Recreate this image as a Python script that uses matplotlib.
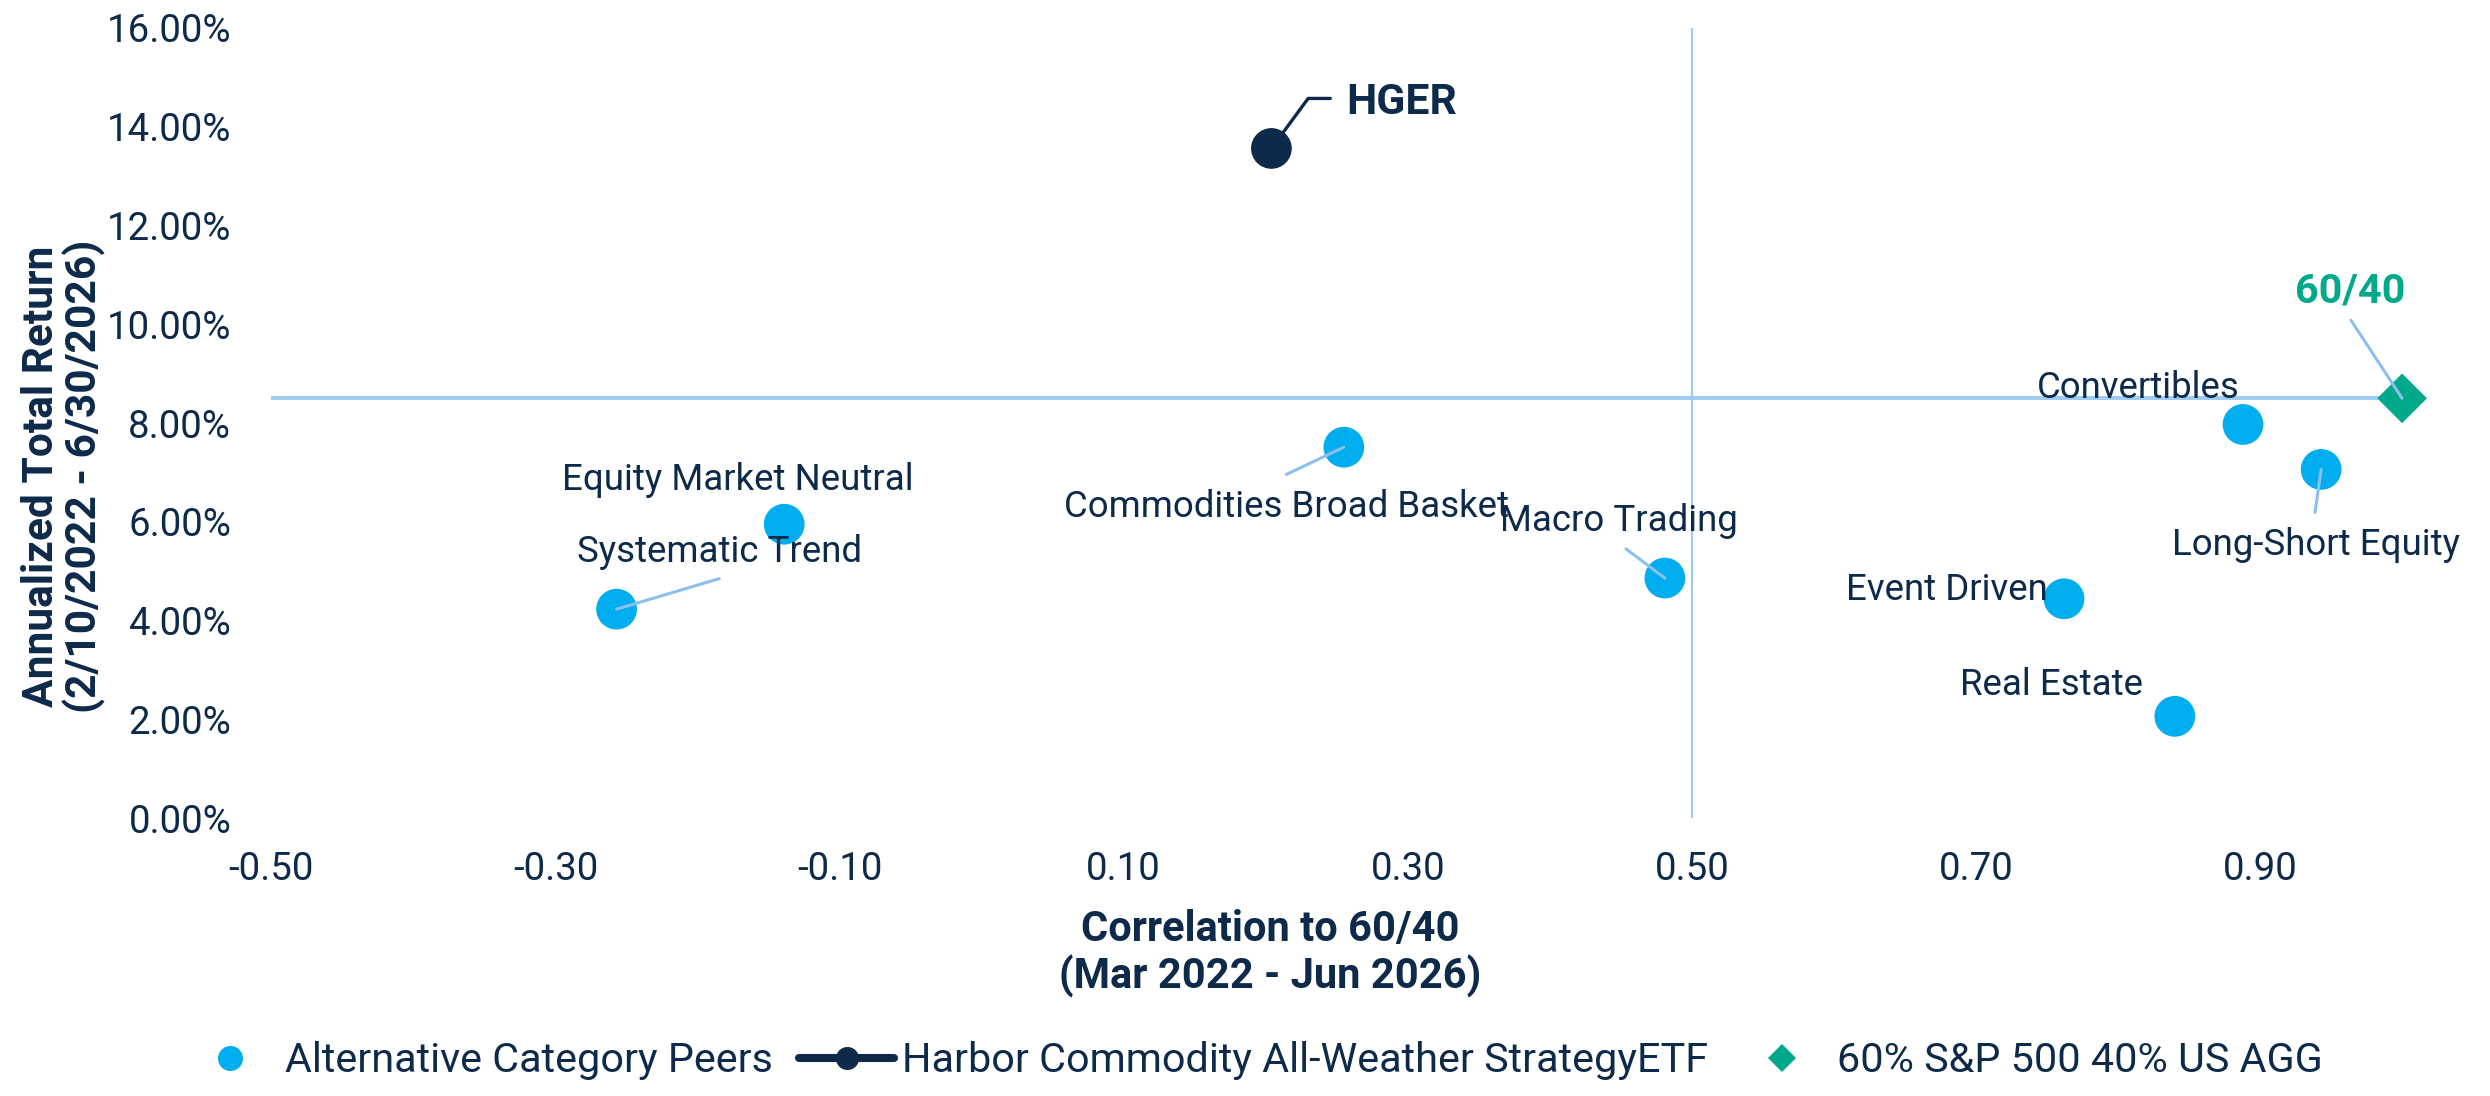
import matplotlib
matplotlib.use("Agg")
import matplotlib.pyplot as plt
from matplotlib.lines import Line2D
from matplotlib.ticker import FuncFormatter

plt.rcParams['font.family'] = ['Roboto', 'DejaVu Sans']

# ---------------- data ----------------
peer_names = ["Systematic Trend", "Equity Market Neutral", "Commodities Broad Basket",
              "Macro Trading", "Event Driven", "Real Estate", "Convertibles",
              "Long-Short Equity"]
peer_corr = [-0.257, -0.139, 0.255, 0.481, 0.762, 0.840, 0.888, 0.943]
peer_ret = [4.23, 5.95, 7.51, 4.86, 4.44, 2.06, 7.97, 7.06]

hger_name = "HGER"
hger_corr = [0.204]
hger_ret = [13.56]

bench_name = "60/40"
bench_corr = [1.00]
bench_ret = [8.50]

corr_divider = 0.50

x_ticks = [-0.50, -0.30, -0.10, 0.10, 0.30, 0.50, 0.70, 0.90]
y_ticks = [0, 2, 4, 6, 8, 10, 12, 14, 16]

legend_labels = ["Alternative Category Peers",
                 "Harbor Commodity All-Weather StrategyETF",
                 "60% S&P 500 40% US AGG"]

x_label = "Correlation to 60/40\n(Mar 2022 - Jun 2026)"
y_label = "Annualized Total Return\n(2/10/2022 - 6/30/2026)"

# ---------------- style ----------------
NAVY = "#0D2A4A"
BLUE = "#00AEEF"
GREEN = "#00A98A"
REF = "#9DCBF2"
LEAD = "#8DBFEE"

# label offsets (points) of text centre relative to its point
label_off = {
    "Systematic Trend": (37, 20.5),
    "Equity Market Neutral": (-16.6, 16.0),
    "Commodities Broad Basket": (-20.7, -21.5),
    "Macro Trading": (-16.6, 20.5),
    "Event Driven": (-42.3, 3.2),
    "Real Estate": (-44.3, 11.2),
    "Convertibles": (-37.7, 13.0),
    "Long-Short Equity": (-1.8, -27.3),
}
# leader end offsets (points)
lead_off = {
    "Systematic Trend": (37, 11),
    "Commodities Broad Basket": (-20.7, -9.8),
    "Macro Trading": (-14, 10.5),
    "Long-Short Equity": (-2.2, -15.5),
}

fig = plt.figure(figsize=(12.45, 5.48), dpi=200)
ax = fig.add_axes([0.1090, 0.2536, 0.9647 - 0.1090, 0.9745 - 0.2536])

ax.set_xlim(x_ticks[0], 1.0)
ax.set_ylim(y_ticks[0], y_ticks[-1])

# reference lines
ax.axhline(bench_ret[0], color=REF, lw=1.4, zorder=1)
ax.axvline(corr_divider, color=REF, lw=0.8, zorder=1)

# markers
ax.scatter(peer_corr, peer_ret, s=215, color=BLUE, edgecolors='none', zorder=3, clip_on=False)
ax.scatter(hger_corr, hger_ret, s=215, color=NAVY, edgecolors='none', zorder=3, clip_on=False)
ax.scatter(bench_corr, bench_ret, marker='D', s=160, color=GREEN, edgecolors='none',
           zorder=3, clip_on=False)

# peer labels and leaders
for name, xv, yv in zip(peer_names, peer_corr, peer_ret):
    if name in lead_off:
        ax.annotate("", xy=(xv, yv), xytext=lead_off[name], textcoords='offset points',
                    arrowprops=dict(arrowstyle='-', color=LEAD, lw=1.1,
                                    shrinkA=0, shrinkB=0), zorder=4)
    ax.annotate(name, xy=(xv, yv), xytext=label_off[name], textcoords='offset points',
                ha='center', va='center', fontsize=13.2, color=NAVY, zorder=5)

# HGER label with elbow leader
ax.annotate("", xy=(hger_corr[0], hger_ret[0]), xytext=(21.2, 18), textcoords='offset points',
            arrowprops=dict(arrowstyle='-', color=NAVY, lw=1.2, shrinkA=0, shrinkB=0,
                            connectionstyle="angle,angleA=180,angleB=53.7,rad=0"), zorder=4)
ax.annotate(hger_name, xy=(hger_corr[0], hger_ret[0]), xytext=(26.9, 16.6),
            textcoords='offset points', ha='left', va='center', fontsize=15.4,
            fontweight='bold', color=NAVY, zorder=5)

# 60/40 label
ax.annotate("", xy=(bench_corr[0], bench_ret[0]), xytext=(-18.4, 28.1), textcoords='offset points',
            arrowprops=dict(arrowstyle='-', color=LEAD, lw=1.1, shrinkA=0, shrinkB=0), zorder=4)
ax.annotate(bench_name, xy=(bench_corr[0], bench_ret[0]), xytext=(-18.7, 38.6),
            textcoords='offset points', ha='center', va='center', fontsize=14.9,
            fontweight='bold', color=GREEN, zorder=5)

# axes styling
for sp in ax.spines.values():
    sp.set_visible(False)
ax.set_xticks(x_ticks)
ax.set_yticks(y_ticks)
ax.xaxis.set_major_formatter(FuncFormatter(lambda v, p: f"{v:.2f}"))
ax.yaxis.set_major_formatter(FuncFormatter(lambda v, p: f"{v:.2f}%"))
ax.tick_params(axis='both', length=0, labelsize=13.8, labelcolor=NAVY)
ax.tick_params(axis='x', pad=12)
ax.tick_params(axis='y', pad=14.5)

fig.text(0.510, 0.1300, x_label, ha='center', va='center', fontsize=15,
         fontweight='bold', color=NAVY, linespacing=1.12)
fig.text(0.0255, 0.5657, y_label, ha='center', va='center', rotation=90, fontsize=15.3,
         fontweight='bold', color=NAVY, linespacing=1.05)

handles = [
    Line2D([], [], ls='', marker='o', markersize=9, color=BLUE, markeredgewidth=0),
    Line2D([], [], ls='-', lw=2.9, marker='o', markersize=8.3, color=NAVY,
           markeredgewidth=0, solid_capstyle='round'),
    Line2D([], [], ls='', marker='D', markersize=6.9, color=GREEN, markeredgewidth=0),
]
leg = fig.legend(handles, legend_labels, loc='center', bbox_to_anchor=(0.503, 0.032),
                 ncol=3, frameon=False, fontsize=14.9, handlelength=2.3,
                 handletextpad=0.19, columnspacing=0.63, borderpad=0)
for t in leg.get_texts():
    t.set_color(NAVY)

fig.savefig("out.png", dpi=200, facecolor='white')
